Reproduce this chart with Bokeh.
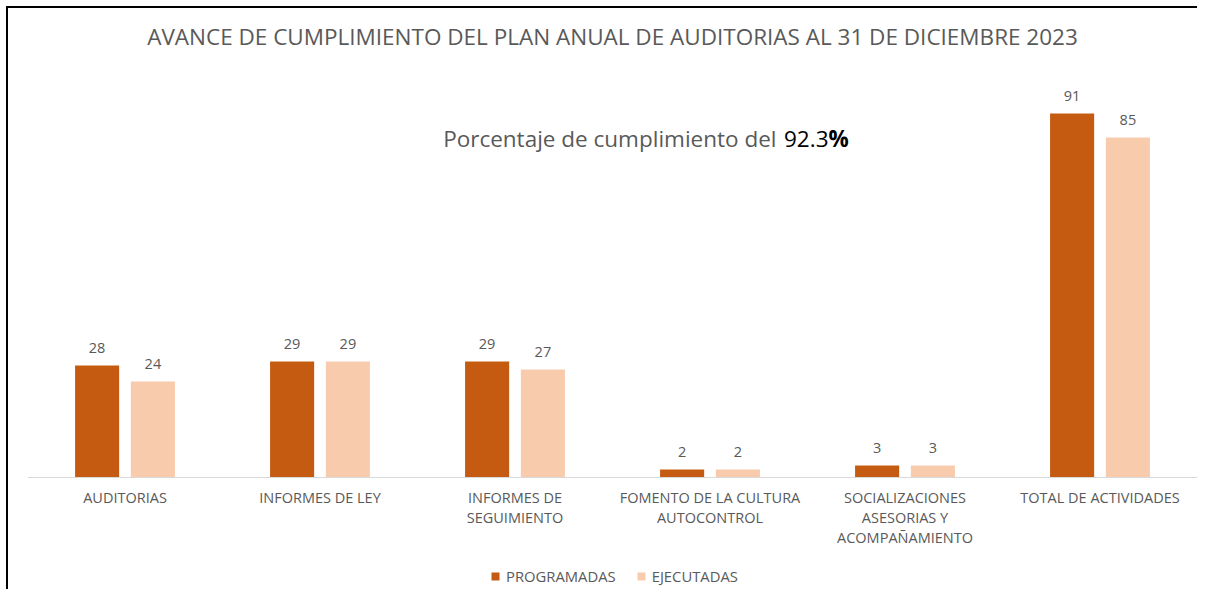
from bokeh.plotting import figure
from bokeh.models import (ColumnDataSource, FactorRange, Range1d, LabelSet, Label, Legend,
                          LegendItem, Span)
from bokeh.core.properties import value
from bokeh.transform import dodge
from bokeh.embed import file_html
from bokeh.resources import INLINE

categorias = ["AUDITORIAS", "INFORMES DE LEY", "INFORMES DE SEGUIMIENTO",
              "FOMENTO DE LA CULTURA AUTOCONTROL",
              "SOCIALIZACIONES ASESORIAS Y ACOMPAÑAMIENTO", "TOTAL DE ACTIVIDADES"]
# category labels as they are wrapped on the chart (one list per text line)
etiquetas_l1 = ["AUDITORIAS", "INFORMES DE LEY", "INFORMES DE", "FOMENTO DE LA CULTURA",
                "SOCIALIZACIONES", "TOTAL DE ACTIVIDADES"]
etiquetas_l2 = ["", "", "SEGUIMIENTO", "AUTOCONTROL", "ASESORIAS Y", ""]
etiquetas_l3 = ["", "", "", "", "ACOMPAÑAMIENTO", ""]
programadas = [28, 29, 29, 2, 3, 91]
ejecutadas = [24, 29, 27, 2, 3, 85]
series = ["PROGRAMADAS", "EJECUTADAS"]
porcentaje = "92.3"

TXT = "#595959"
FONT = "Open Sans"
C_PROG = "#C55A11"
C_EJEC = "#F8CBAD"
PX = 4.0  # pixels per unit

src = ColumnDataSource(dict(cat=categorias, prog=programadas, ejec=ejecutadas,
                            prog_t=[str(v) for v in programadas],
                            ejec_t=[str(v) for v in ejecutadas],
                            l1=etiquetas_l1, l2=etiquetas_l2, l3=etiquetas_l3))

# the plotting frame also holds the category labels and the legend below the baseline
BELOW = 112
FH = 417 + BELOW
p = figure(x_range=FactorRange(factors=categorias, range_padding=0),
           y_range=Range1d(-BELOW / PX, 417 / PX),
           frame_width=1170, frame_height=FH,
           output_backend="svg", toolbar_location=None,
           x_axis_location=None, y_axis_location=None,
           min_border_left=19, min_border_right=0, min_border_top=52, min_border_bottom=0)
p.styles = {"margin-left": "6px", "margin-top": "6px",
            "border-top": "2px solid #000", "border-left": "2px solid #000"}

p.title.text = "AVANCE DE CUMPLIMIENTO DEL PLAN ANUAL DE AUDITORIAS AL 31 DE DICIEMBRE 2023"
p.title.align = "center"
p.title.text_font = FONT
p.title.text_font_size = "22.5px"
p.title.text_font_style = "normal"
p.title.text_color = TXT
p.title.standoff = 17

p.outline_line_color = None
p.xgrid.grid_line_color = None
p.ygrid.grid_line_color = None

w = 0.226
r1 = p.vbar(x=dodge("cat", -0.143, range=p.x_range), top="prog", width=w, source=src,
            fill_color=C_PROG, line_color=None)
r2 = p.vbar(x=dodge("cat", 0.143, range=p.x_range), top="ejec", width=w, source=src,
            fill_color=C_EJEC, line_color=None)

# category baseline
p.add_layout(Span(location=0, dimension="width", line_color="#D9D9D9", line_width=1))

for col, off in (("prog", -0.143), ("ejec", 0.143)):
    p.add_layout(LabelSet(x=dodge("cat", off, range=p.x_range), y=col, text=col + "_t",
                          source=src, text_align="center", text_baseline="middle", y_offset=18,
                          text_font=value(FONT), text_font_size=value("14.5px"),
                          text_color=TXT))

# category labels (three text lines, 20 px apart)
for col, off_px in (("l1", 20), ("l2", 40), ("l3", 60)):
    p.add_layout(LabelSet(x="cat", y=0, text=col, source=src, y_offset=-off_px,
                          text_align="center", text_baseline="middle",
                          text_font=value(FONT), text_font_size=value("14.5px"),
                          text_color=TXT))

# subtitle
ysub = (477 - 138.4) / PX
p.add_layout(Label(x=(776 - 27) / 195.0, y=ysub, text="Porcentaje de cumplimiento del",
                   text_align="right", text_baseline="middle", text_font=FONT,
                   text_font_size="22.5px", text_color=TXT))
p.add_layout(Label(x=(828 - 27) / 195.0, y=ysub, text=porcentaje,
                   text_align="right", text_baseline="middle", text_font=FONT,
                   text_font_size="22.5px", text_color="#000000"))
p.add_layout(Label(x=(828 - 27) / 195.0, y=ysub, text="%",
                   text_align="left", text_baseline="middle", text_font=FONT,
                   text_font_size="22.5px", text_color="#000000", text_font_style="bold"))

# legend at the bottom of the frame (offset in pixels from its bottom-left corner)
PAD = 3
legend = Legend(items=[LegendItem(label=series[0], renderers=[r1]),
                       LegendItem(label=series[1], renderers=[r2])],
                orientation="horizontal", location=(493 - PAD - 27, 3),
                glyph_width=10, glyph_height=10, label_standoff=6, spacing=20,
                label_text_font=FONT, label_text_font_size="14.8px", label_text_color=TXT,
                border_line_color=None, background_fill_alpha=0,
                padding=PAD, margin=0, label_height=20)
p.add_layout(legend, "center")

open("out.html", "w").write(file_html(p, INLINE))
